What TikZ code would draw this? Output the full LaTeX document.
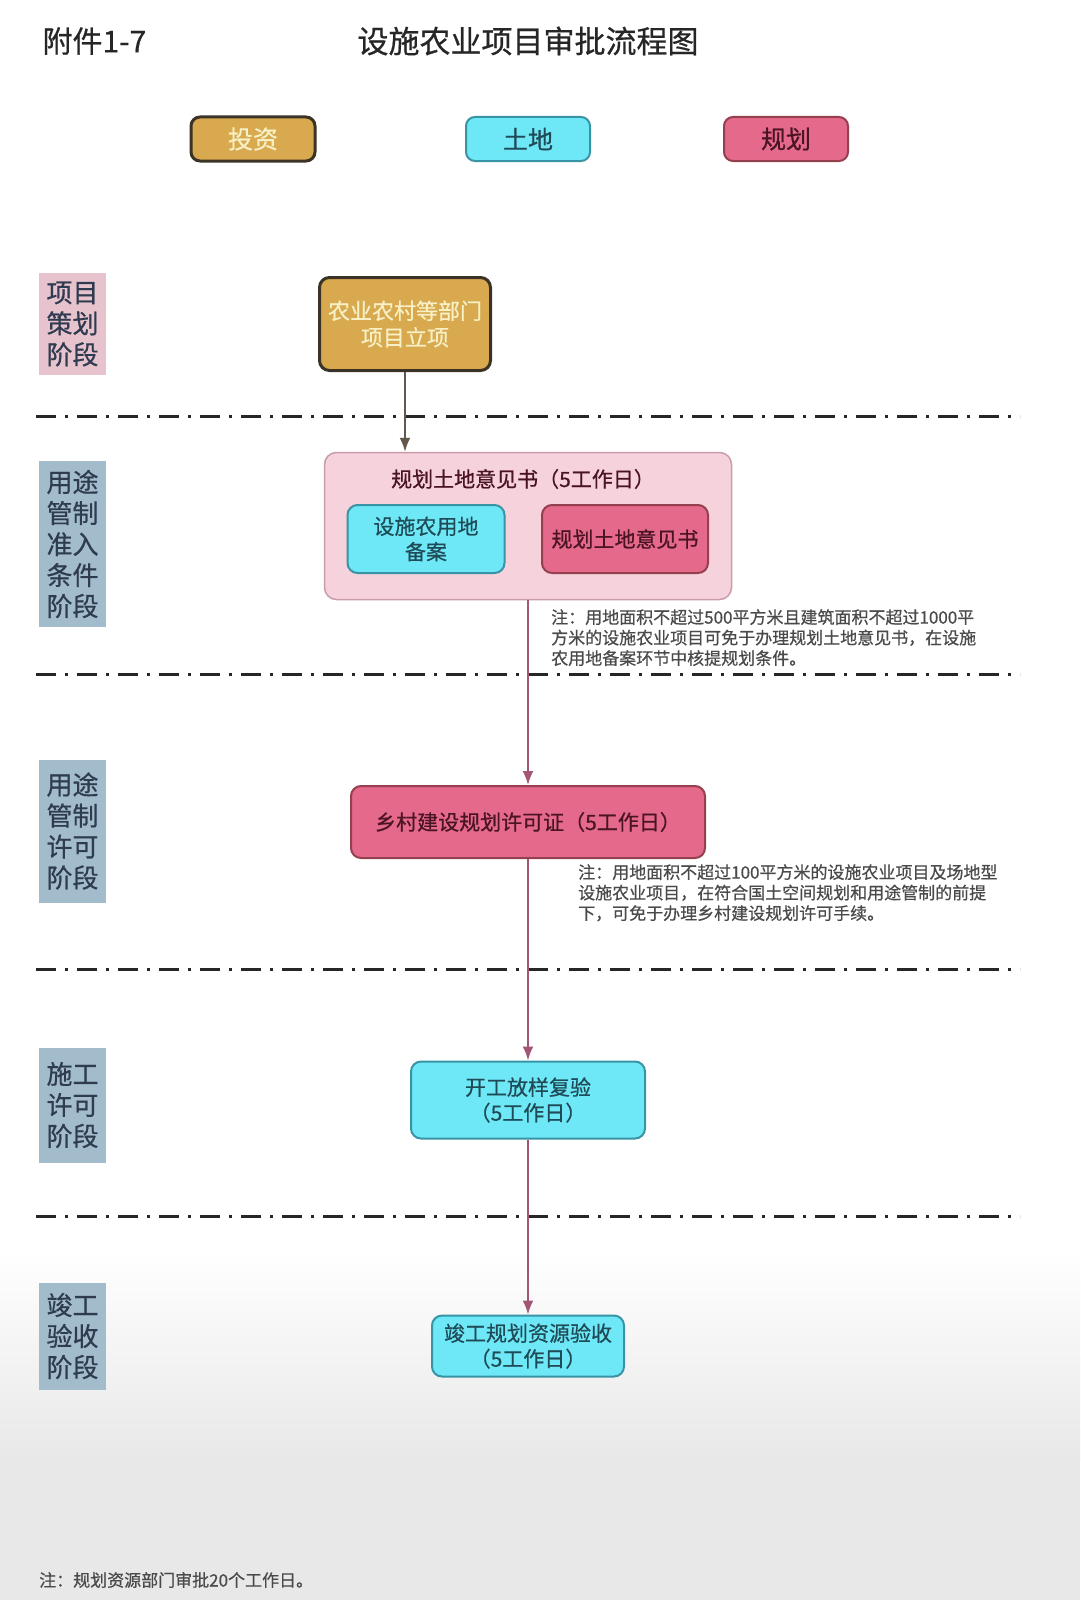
\documentclass[tikz,border=0pt]{standalone}
\usepackage{fontspec}
\setmainfont{Noto Sans CJK SC}[FakeBold=0.6]
\usetikzlibrary{shapes,arrows,arrows.meta,positioning,calc}
\definecolor{goldfill}{HTML}{D8A94F}
\definecolor{goldline}{HTML}{3B3325}
\definecolor{goldtext}{HTML}{F7F0C4}
\definecolor{landfill}{HTML}{6EE8F7}
\definecolor{landline}{HTML}{3894A4}
\definecolor{landtext}{HTML}{1F4B57}
\definecolor{planfill}{HTML}{E4698A}
\definecolor{planline}{HTML}{94404F}
\definecolor{plantext}{HTML}{4A1424}
\definecolor{contfill}{HTML}{F6D3DC}
\definecolor{contline}{HTML}{C99CAA}
\definecolor{stagepink}{HTML}{E7C3CD}
\definecolor{stageblue}{HTML}{A3BCCC}
\definecolor{stagetext}{HTML}{2E3B50}
\definecolor{flowcolor}{HTML}{A35575}
\definecolor{firstflow}{HTML}{62574B}
\definecolor{notetext}{HTML}{4A4A4A}
\definecolor{sepcolor}{HTML}{262626}
\definecolor{bggrey}{HTML}{E8E8E8}
\tikzset{
block/.style = {draw, rectangle, rounded corners=10pt, align=center, inner sep=3pt, font=\fontsize{21}{25.5}\selectfont},
goldblock/.style = {block, fill=goldfill, draw=goldline, line width=3pt, text=goldtext},
landblock/.style = {block, fill=landfill, draw=landline, line width=2pt, text=landtext},
planblock/.style = {block, fill=planfill, draw=planline, line width=2pt, text=plantext},
legend/.style = {minimum width=124pt, minimum height=44pt, rounded corners=9pt, font=\fontsize{25}{30}\selectfont},
stage/.style = {rectangle, fill=stageblue, text=stagetext, align=center, inner sep=2pt, minimum width=67pt, font=\fontsize{26}{31}\selectfont},
note/.style = {anchor=north west, align=left, text=notetext, inner sep=0pt, font=\fontsize{17}{20.5}\selectfont},
sepline/.style = {draw=sepcolor, line width=3pt, dash pattern=on 20pt off 9pt on 3pt off 9pt},
flow/.style = {->, draw=flowcolor, line width=2pt}
}

\begin{document}
\begin{tikzpicture}[x=1pt, y=1pt, node distance=100pt, >={Latex[length=14pt,width=11pt]}]
    \fill[white] (0,0) rectangle (1080,-1600);
    \shade[top color=white, bottom color=bggrey] (0,-1250) rectangle (1080,-1460);
    \fill[bggrey] (0,-1460) rectangle (1080,-1600);
    \useasboundingbox (0,0) rectangle (1080,-1600);

    \node [anchor=west, font=\fontsize{30}{36}\selectfont, text=black!85] (annex) at (39,-41) {附件1-7};
    \node [font=\fontsize{31}{38}\selectfont, text=black!85] (title) at (528,-41) {设施农业项目审批流程图};

    \node [goldblock, legend] (invest) at (253,-139) {投资};
    \node [landblock, legend, right of=invest, node distance=275pt] (land) {土地};
    \node [planblock, legend, right of=land, node distance=258pt] (plan) {规划};

    \foreach \y in {-416,-674,-969,-1216}
        \draw [sepline] (36,\y) -- (1020,\y);

    \node [stage, fill=stagepink, minimum height=102pt] (s1) at (72.5,-324) {项目\\策划\\阶段};
    \node [stage, minimum height=166pt] (s2) at (72.5,-544) {用途\\管制\\准入\\条件\\阶段};
    \node [stage, minimum height=143pt] (s3) at (72.5,-831) {用途\\管制\\许可\\阶段};
    \node [stage, minimum height=115pt] (s4) at (72.5,-1105) {施工\\许可\\阶段};
    \node [stage, minimum height=107pt] (s5) at (72.5,-1336) {竣工\\验收\\阶段};

    \node [goldblock, minimum width=171pt, minimum height=93pt, font=\fontsize{22}{26.5}\selectfont] (setup) at (405,-324) {农业农村等部门\\项目立项};
    \node [draw=contline, fill=contfill, line width=1.5pt, rounded corners=12pt, minimum width=407pt, minimum height=147pt] (opinion) at (528,-526) {};
    \node [text=plantext, font=\fontsize{21}{25.5}\selectfont] (optitle) at (523,-479) {规划土地意见书（5工作日）};
    \node [landblock, minimum width=157pt, minimum height=68pt] (record) at (426,-539) {设施农用地\\备案};
    \node [planblock, minimum width=166pt, minimum height=68pt] (letter) at (625,-539) {规划土地意见书};
    \node [planblock, minimum width=354pt, minimum height=72pt, below of=opinion, node distance=296pt] (permit) {乡村建设规划许可证（5工作日）};
    \node [landblock, minimum width=234pt, minimum height=77pt, below of=permit, node distance=278pt] (recheck) {开工放样复验\\（5工作日）};
    \node [landblock, minimum width=192pt, minimum height=61pt, below of=recheck, node distance=246pt] (accept) {竣工规划资源验收\\（5工作日）};

    \node [note] (note1) at (551,-609) {注：用地面积不超过500平方米且建筑面积不超过1000平\\方米的设施农业项目可免于办理规划土地意见书，在设施\\农用地备案环节中核提规划条件。};
    \node [note] (note2) at (578,-864) {注：用地面积不超过100平方米的设施农业项目及场地型\\设施农业项目，在符合国土空间规划和用途管制的前提\\下，可免于办理乡村建设规划许可手续。};
    \node [note, anchor=west] (footer) at (39,-1580) {注：规划资源部门审批20个工作日。};

    \draw [flow, draw=firstflow] (setup) -- (setup |- opinion.north);
    \draw [flow] (opinion) -- (permit);
    \draw [flow] (permit) -- (recheck);
    \draw [flow] (recheck) -- (accept);
\end{tikzpicture}
\end{document}
